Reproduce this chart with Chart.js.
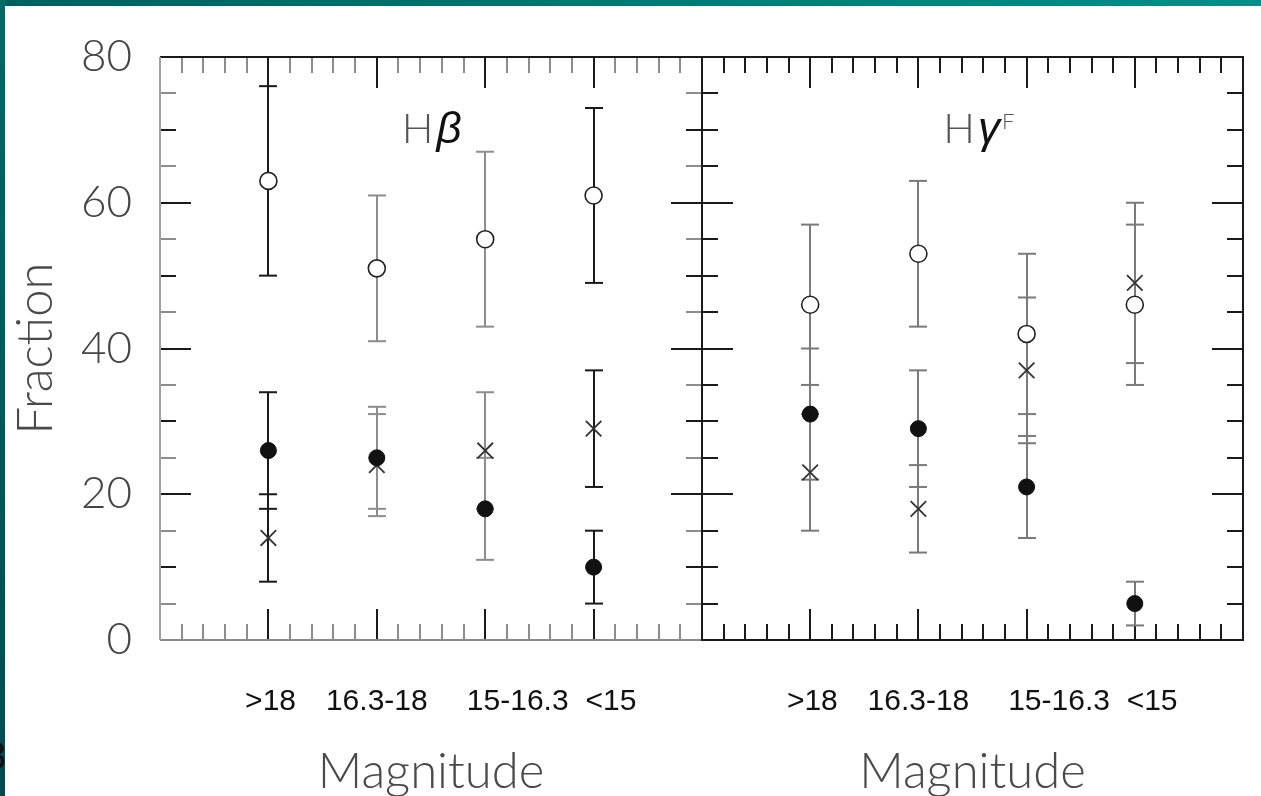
<!DOCTYPE html>
<html>
<head>
<meta charset="utf-8">
<script src="https://cdn.jsdelivr.net/npm/chart.js@4.4.1/dist/chart.umd.min.js"></script>
<style>
  html, body { margin: 0; padding: 0; background: #fff; }
  #page { position: relative; width: 1261px; height: 796px; overflow: hidden; background: #fff; }
  #page canvas { position: absolute; top: 0; }
  #topbar { position: absolute; left: 0; top: 0; width: 1261px; height: 6px;
            background: linear-gradient(to right, #005f5e, #008f8a); }
  #leftbar { position: absolute; left: 0; top: 0; width: 5px; height: 796px;
             background: linear-gradient(#006a68, #004c4e); }
  #slideno { position: absolute; left: -15px; top: 735px; font: 38px "Liberation Sans", Arial, sans-serif; color: #111; }
</style>
</head>
<body>
<div id="page">
  <canvas id="hbeta" width="703" height="796" style="left:0"></canvas>
  <canvas id="hgamma" width="569" height="796" style="left:692px"></canvas>
  <div id="topbar"></div>
  <div id="leftbar"></div>
  <div id="slideno">3</div>
</div>
<script>
// magnitude bins, placed at x = 1..4 on each panel
const magBins = ['>18', '16.3-18', '15-16.3', '<15'];
const binX = [1, 2, 3, 4];
const fractionTicks = [0, 20, 40, 60, 80];

// H beta panel (per cent, symmetric errors)
const hbOpen = [63, 51, 55, 61];
const hbOpenErr = [13, 10, 12, 12];
const hbFilled = [26, 25, 18, 10];
const hbFilledErr = [8, 7, 7, 5];
const hbCross = [14, 24, 26, 29];
const hbCrossErr = [6, 7, 8, 8];

// H gamma F panel
const hgOpen = [46, 53, 42, 46];
const hgOpenErr = [11, 10, 11, 11];
const hgFilled = [31, 29, 21, 5];
const hgFilledErr = [9, 8, 7, 3];
const hgCross = [23, 18, 37, 49];
const hgCrossErr = [8, 6, 10, 11];

// where the bin names sit under each panel (x units)
const binLabelX = [1.02, 2, 3.3, 4.16];

const thinFont = 'Lato';
const GREY = '#8d8d8d';
const INK = '#1a1a1a';

function pts(vals, errs) {
  return vals.map((v, i) => ({ x: binX[i], y: v, err: errs[i] }));
}

function line(ctx, x1, y1, x2, y2) {
  ctx.beginPath();
  ctx.moveTo(x1, y1);
  ctx.lineTo(x2, y2);
  ctx.stroke();
}

// box + inward ticks on all four sides
const frame = {
  id: 'frame',
  beforeDatasetsDraw(chart, args, opts) {
    const { ctx, chartArea: a, scales: { x, y } } = chart;
    ctx.save();
    ctx.lineWidth = 2;
    for (let k = 1; k < 25; k++) {
      const px = Math.round(x.getPixelForValue(k / 5));
      const major = k % 5 === 0;
      const len = major ? 31 : 16;
      ctx.strokeStyle = opts.tick(major);
      line(ctx, px, a.top, px, a.top + len);
      line(ctx, px, a.bottom, px, a.bottom - len);
    }
    for (let v = 5; v < 80; v += 5) {
      const py = Math.round(y.getPixelForValue(v));
      const len = v % 20 === 0 ? 31 : 16;
      ctx.strokeStyle = opts.tick(v % 10 === 0);
      line(ctx, a.left, py, a.left + len, py);
      line(ctx, a.right, py, a.right - len, py);
    }
    ctx.strokeStyle = opts.sides.top;
    line(ctx, a.left, a.top, a.right + 1, a.top);
    ctx.strokeStyle = opts.sides.bottom;
    line(ctx, a.left, a.bottom, a.right + 1, a.bottom);
    ctx.strokeStyle = opts.sides.left;
    line(ctx, a.left, a.top, a.left, a.bottom);
    ctx.strokeStyle = opts.sides.right;
    line(ctx, a.right, a.top, a.right, a.bottom + 1);
    ctx.restore();
  }
};

// vertical error bars with caps, under the markers
const errorBars = {
  id: 'errorBars',
  beforeDatasetsDraw(chart, args, opts) {
    const { ctx, scales: { x, y } } = chart;
    ctx.save();
    ctx.lineWidth = 2;
    chart.data.datasets.forEach(ds => {
      ds.data.forEach((p, i) => {
        const px = Math.round(x.getPixelForValue(p.x));
        const top = y.getPixelForValue(p.y + p.err);
        const bot = y.getPixelForValue(p.y - p.err);
        ctx.strokeStyle = opts.colors[i];
        line(ctx, px, top, px, bot);
        line(ctx, px - 9, top, px + 9, top);
        line(ctx, px - 9, bot, px + 9, bot);
      });
    });
    ctx.restore();
  }
};

// line index name inside the panel
const panelLabel = {
  id: 'panelLabel',
  afterDraw(chart, args, opts) {
    const { ctx, scales: { x, y } } = chart;
    let px = x.getPixelForValue(opts.at[0]);
    const py = y.getPixelForValue(opts.at[1]);
    ctx.save();
    ctx.textBaseline = 'alphabetic';
    opts.parts.forEach(p => {
      ctx.font = p.font;
      ctx.fillStyle = p.color;
      ctx.fillText(p.text, px, py + (p.dy || 0));
      px += ctx.measureText(p.text).width + (p.gap || 0);
    });
    ctx.restore();
  }
};

function makePanel(id, open, openErr, filled, filledErr, cross, crossErr, cfg) {
  return new Chart(document.getElementById(id), {
    type: 'scatter',
    data: {
      datasets: [
        { label: 'filled', data: pts(filled, filledErr), pointStyle: 'circle', pointRadius: 8,
          backgroundColor: '#111', borderColor: '#111', borderWidth: 1 },
        { label: 'open', data: pts(open, openErr), pointStyle: 'circle', pointRadius: 8.5,
          backgroundColor: '#fff', borderColor: '#222', borderWidth: 1.6 },
        { label: 'cross', data: pts(cross, crossErr), pointStyle: 'crossRot', pointRadius: 11,
          borderColor: '#333', borderWidth: 1.8 }
      ]
    },
    options: {
      responsive: false,
      animation: false,
      events: [],
      layout: { autoPadding: false, padding: cfg.padding },
      plugins: {
        legend: { display: false },
        tooltip: { enabled: false },
        frame: { tick: cfg.tick, sides: cfg.sides },
        errorBars: { colors: cfg.barColors },
        panelLabel: { at: [2.23, 68.2], parts: cfg.label }
      },
      scales: {
        x: {
          type: 'linear', min: 0, max: 5,
          grid: { display: false, drawTicks: false },
          border: { display: false },
          afterFit: s => { s.height = 156; s.paddingLeft = 0; s.paddingRight = 0; },
          afterBuildTicks: s => { s.ticks = binLabelX.map(v => ({ value: v })); },
          ticks: {
            autoSkip: false, maxRotation: 0, padding: 44, color: '#111',
            font: { family: 'Liberation Sans', size: 30 },
            callback: (v, i) => magBins[i]
          },
          title: {
            display: true, text: 'Magnitude', color: '#4a4a4a',
            font: { family: thinFont, weight: 300, size: 49 },
            padding: { top: 0, bottom: -6 }
          }
        },
        y: {
          display: cfg.showY,
          min: 0, max: 80,
          afterFit: s => { s.width = cfg.showY ? 160 : 0; },
          afterBuildTicks: s => { s.ticks = fractionTicks.map(v => ({ value: v })); },
          grid: { display: false, drawTicks: false },
          border: { display: false },
          ticks: { padding: 28, color: '#444', font: { family: thinFont, weight: 300, size: 44 } },
          title: {
            display: true, text: 'Fraction', color: '#4a4a4a',
            font: { family: thinFont, weight: 300, size: 49 },
            padding: { top: 7, bottom: 0 }
          }
        }
      }
    },
    plugins: [frame, errorBars, panelLabel]
  });
}

// left panel: H beta
makePanel('hbeta', hbOpen, hbOpenErr, hbFilled, hbFilledErr, hbCross, hbCrossErr, {
  showY: true,
  padding: { top: 57, right: 1, bottom: 0, left: 0 },
  tick: major => (major ? INK : GREY),
  sides: { top: INK, bottom: '#8a8a8a', left: '#a0a0a0', right: INK },
  barColors: [INK, GREY, GREY, INK],
  label: [
    { text: 'H', font: '300 42px ' + thinFont, color: '#555', gap: 3 },
    { text: 'β', font: 'italic 44px "Liberation Sans"', color: '#111' }
  ]
});

// right panel: H gamma F
makePanel('hgamma', hgOpen, hgOpenErr, hgFilled, hgFilledErr, hgCross, hgCrossErr, {
  showY: false,
  padding: { top: 57, right: 18, bottom: 0, left: 10 },
  tick: () => INK,
  sides: { top: INK, bottom: INK, left: INK, right: INK },
  barColors: ['#7a7a7a', '#7a7a7a', '#7a7a7a', '#7a7a7a'],
  label: [
    { text: 'H', font: '300 42px ' + thinFont, color: '#555', gap: 3 },
    { text: 'γ', font: 'italic 44px "Liberation Sans"', color: '#111', gap: 2 },
    { text: 'F', font: '300 22px ' + thinFont, color: '#555', dy: -14 }
  ]
});
</script>
</body>
</html>
